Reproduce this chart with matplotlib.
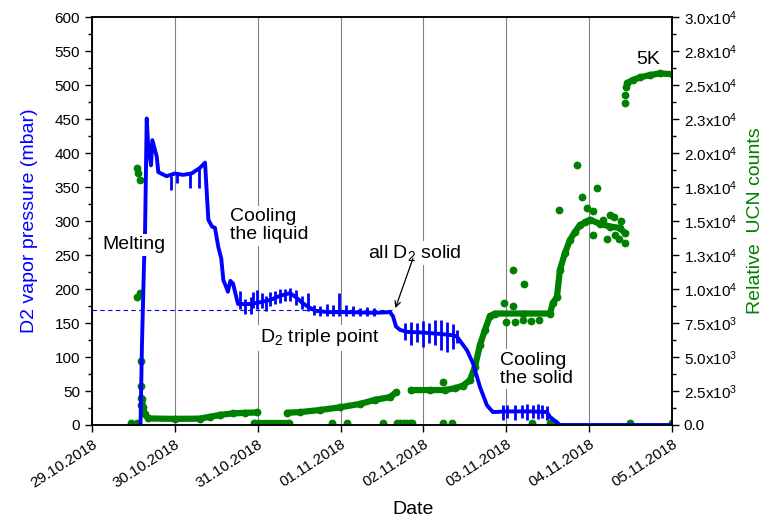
import numpy as np
import pandas as pd
import matplotlib
matplotlib.use("Agg")
import matplotlib.pyplot as plt
import matplotlib.dates as mdates
from matplotlib.ticker import MultipleLocator, FuncFormatter
from matplotlib.transforms import ScaledTranslation

plt.rcParams['font.family'] = ['Liberation Sans', 'DejaVu Sans']
plt.rcParams['mathtext.default'] = 'regular'

# Data (time in days since 29.10.2018 00:00)
t0 = pd.Timestamp('2018-10-29')

# D2 vapor pressure (mbar), baseline of the curve
p_days = [0.585, 0.603, 0.628, 0.640, 0.660, 0.676, 0.712, 0.728, 0.781, 0.800,
          0.900, 1.000, 1.100, 1.200, 1.300, 1.364, 1.404, 1.448, 1.484, 1.524,
          1.560, 1.585, 1.610, 1.640, 1.670, 1.702, 1.762, 1.900, 2.050, 2.150,
          2.269, 2.390, 2.462, 2.535, 2.607, 2.700, 2.850, 3.100, 3.400, 3.597,
          3.633, 3.669, 3.717, 3.800, 4.000, 4.200, 4.357, 4.405, 4.526, 4.598,
          4.683, 4.767, 4.840, 5.000, 5.300, 5.491, 5.528, 5.588, 5.648, 7.000]
p_mbar = [0, 120, 240, 284, 451, 415, 382, 419, 395, 372,
          366, 370, 368, 370, 378, 386, 302, 292, 290, 262,
          245, 213, 206, 196, 212, 208, 178, 178, 181, 184,
          190, 194, 188, 180, 174, 168, 166, 166, 165, 166,
          160, 145, 140, 137, 136, 134, 132, 130, 110, 91,
          56, 29, 19, 20, 20, 19, 12, 6, 0, 0]

# pressure spikes (day, low, high)
spike_days = [0.950, 1.029, 1.186, 1.294,
              1.786, 1.847, 1.919, 1.943, 1.991, 2.052, 2.100, 2.148, 2.209, 2.269,
              2.329, 2.390, 2.462, 2.535, 2.607, 2.679, 2.752, 2.836, 2.909, 2.981,
              3.066, 3.150, 3.234, 3.319, 3.403,
              3.778, 3.850, 3.922, 3.995, 4.067, 4.140, 4.212, 4.285, 4.357, 4.405,
              4.960, 5.009, 5.105, 5.190, 5.250, 5.322, 5.383, 5.431, 5.491]
spike_lo = [345, 356, 349, 348,
            170, 163, 163, 172, 170, 172, 168, 175, 178, 180,
            182, 182, 176, 170, 168, 162, 160, 160, 160, 160,
            160, 160, 160, 160, 160,
            125, 118, 122, 115, 120, 118, 110, 108, 112, 120,
            8, 10, 8, 10, 7, 10, 9, 10, 8]
spike_hi = [366, 372, 370, 378,
            197, 185, 188, 195, 198, 194, 190, 196, 197, 200,
            200, 202, 199, 190, 194, 176, 175, 178, 176, 194,
            176, 175, 172, 174, 172,
            150, 152, 150, 153, 150, 155, 154, 152, 148, 140,
            30, 30, 30, 29, 31, 30, 31, 29, 28]

# triple point
triple_mbar = 169
triple_end = 3.657

# Relative UCN counts, dense segments
segA_days = [0.603, 0.615, 0.640, 0.680, 1.000, 1.300, 1.420, 1.550, 1.700, 1.850, 1.990]
segA_counts = [1900, 1300, 800, 480, 450, 470, 600, 750, 850, 900, 920]
segB_days = [2.353, 2.510, 2.752, 2.993, 3.234, 3.416, 3.597, 3.669]
segB_counts = [900, 950, 1100, 1300, 1550, 1850, 2050, 2400]
segC_days = [3.850, 4.079, 4.260, 4.381, 4.478, 4.562, 4.622, 4.683, 4.743, 4.803,
             4.864, 5.200, 5.528, 5.564, 5.612, 5.648, 5.709, 5.769, 5.829, 5.890,
             5.950, 6.010, 6.131, 6.252, 6.372, 6.433]
segC_counts = [2570, 2570, 2570, 2700, 2900, 3300, 4270, 5880, 7000, 8000,
               8200, 8200, 8200, 9000, 9400, 11400, 12650, 13600, 14200, 14700,
               14900, 15100, 14800, 14600, 14500, 14100]
segZ_days = [1.955, 2.377]
segZ_counts = [170, 170]
segK_days = [6.457, 6.529, 6.614, 6.734, 6.855, 7.000]
segK_counts = [25150, 25370, 25570, 25740, 25860, 25810]

# single UCN points
dot_days = [0.471, 0.543, 0.539, 0.559, 0.579, 0.539, 0.579, 0.588, 0.588, 0.592, 0.595,
            2.897, 3.078, 3.512, 3.681, 3.720, 3.760, 3.800, 3.840, 3.862, 4.236, 4.345,
            5.310, 5.528, 5.564, 5.588, 6.493, 7.000,
            4.236, 4.972, 5.081, 5.081, 5.214, 5.636, 5.853, 5.914, 5.974, 6.046,
            6.095, 6.252, 6.384, 6.046, 6.215, 6.312, 6.433, 6.360, 6.167, 6.300,
            5.000, 5.100, 5.200, 5.300, 5.400,
            6.433, 6.433, 6.445]
dot_counts = [170, 170, 18880, 18500, 18000, 9430, 9730, 4730, 2870, 1990, 1500,
              170, 170, 170, 170, 170, 170, 170, 170, 170, 170, 170,
              170, 170, 170, 170, 170, 170,
              3180, 8970, 8750, 11400, 10370, 15800, 19100, 16760, 15950, 15740,
              17430, 15440, 15000, 13970, 13700, 14000, 13380, 13680, 15100, 15300,
              7600, 7600, 7700, 7650, 7700,
              23700, 24260, 24850]

date_ticks = pd.date_range('2018-10-29', '2018-11-05', freq='D')


def to_dates(days):
    return t0 + pd.to_timedelta(np.asarray(days), unit='D')


def ucn_fmt(v, pos):
    if v < 0:
        return ''
    if v == 0:
        return '0.0'
    e = int(np.floor(np.log10(v)))
    m = v / 10 ** e
    return f"{m + 1e-9:.1f}x10$^{{{e}}}$"


fig = plt.figure(figsize=(7.67, 5.2), dpi=100)
ax2 = fig.add_axes([0.12, 0.1827, 0.876 - 0.12, 0.967 - 0.1827])
ax = ax2.twinx()
ax.yaxis.tick_left()
ax.yaxis.set_label_position('left')
ax2.yaxis.tick_right()
ax2.yaxis.set_label_position('right')
ax.set_zorder(ax2.get_zorder() + 1)
ax.patch.set_visible(False)

green = '#008000'
blue = '#0000ff'

# UCN counts (right axis)
for d, c in [(segA_days, segA_counts), (segB_days, segB_counts), (segC_days, segC_counts),
             (segZ_days, segZ_counts), (segK_days, segK_counts)]:
    ax2.plot(to_dates(d), c, color=green, lw=4.5, marker='o', ms=4.6,
             solid_capstyle='round', solid_joinstyle='round')
ax2.plot(to_dates(dot_days), dot_counts, 'o', color=green, ms=4.6, ls='none')

# pressure (left axis)
ax.plot(to_dates(p_days), p_mbar, color=blue, lw=2.8, solid_joinstyle='round')
ax.vlines(to_dates(spike_days), spike_lo, spike_hi, color=blue, lw=2.0)
ax.plot(to_dates([0, triple_end]), [triple_mbar, triple_mbar], color=blue, lw=0.8,
        dashes=(4, 3))

# axes
xmin, xmax = date_ticks[0], date_ticks[-1]
ax2.set_xlim(xmin, xmax)
ax2.set_xticks(date_ticks)
ax2.xaxis.set_major_formatter(mdates.DateFormatter('%d.%m.%Y'))
ax2.grid(axis='x', color='#808080', lw=0.8)
ax2.set_axisbelow(True)
shift = ScaledTranslation(6 / 72, -4 / 72, fig.dpi_scale_trans)
for lbl in ax2.get_xticklabels():
    lbl.set_rotation(33)
    lbl.set_ha('right')
    lbl.set_rotation_mode('anchor')
    lbl.set_transform(lbl.get_transform() + shift)

ax.set_ylim(0, 600)
ax.yaxis.set_major_locator(MultipleLocator(50))
ax.yaxis.set_minor_locator(MultipleLocator(25))
ax2.set_ylim(0, 30000)
ax2.yaxis.set_major_locator(MultipleLocator(2500))
ax2.yaxis.set_minor_locator(MultipleLocator(1250))
ax2.yaxis.set_major_formatter(FuncFormatter(ucn_fmt))

for a in (ax, ax2):
    a.tick_params(which='major', direction='out', length=5, width=1, labelsize=11)
    a.tick_params(which='minor', direction='out', length=3, width=1)
    for s in a.spines.values():
        s.set_linewidth(1.1)

ax.set_ylabel('D2 vapor pressure (mbar)', color=blue, fontsize=14, labelpad=12)
ax2.set_ylabel('Relative  UCN counts', color=green, fontsize=14, labelpad=7)
ax2.set_xlabel('Date', fontsize=14)
ax2.xaxis.set_label_coords(0.553, -0.208)
ax2.xaxis.label.set_va('center')

# annotations
box = dict(facecolor='white', edgecolor='none', pad=1.5)
ax.text(to_dates([0.121])[0], 265, 'Melting', fontsize=14, va='center', bbox=box)
ax.text(to_dates([1.666])[0], 293, 'Cooling\nthe liquid', fontsize=14, va='center',
        linespacing=1.1, bbox=box)
ax.text(to_dates([2.028])[0], 128, 'D$_2$ triple point', fontsize=14, va='center', bbox=box)
ax.text(to_dates([3.331])[0], 253, 'all D$_2$ solid', fontsize=14, va='center', bbox=box)
ax.text(to_dates([4.924])[0], 82, 'Cooling\nthe solid', fontsize=14, va='center',
        linespacing=1.1, bbox=box)
ax.text(to_dates([6.566])[0], 537, '5K', fontsize=14, va='center')
ax.annotate('', xy=(to_dates([3.662])[0], 172), xytext=(to_dates([3.874])[0], 245),
            arrowprops=dict(arrowstyle='->', color='black', lw=0.9,
                            shrinkA=0, shrinkB=0))

fig.savefig('out.png', dpi=100)
